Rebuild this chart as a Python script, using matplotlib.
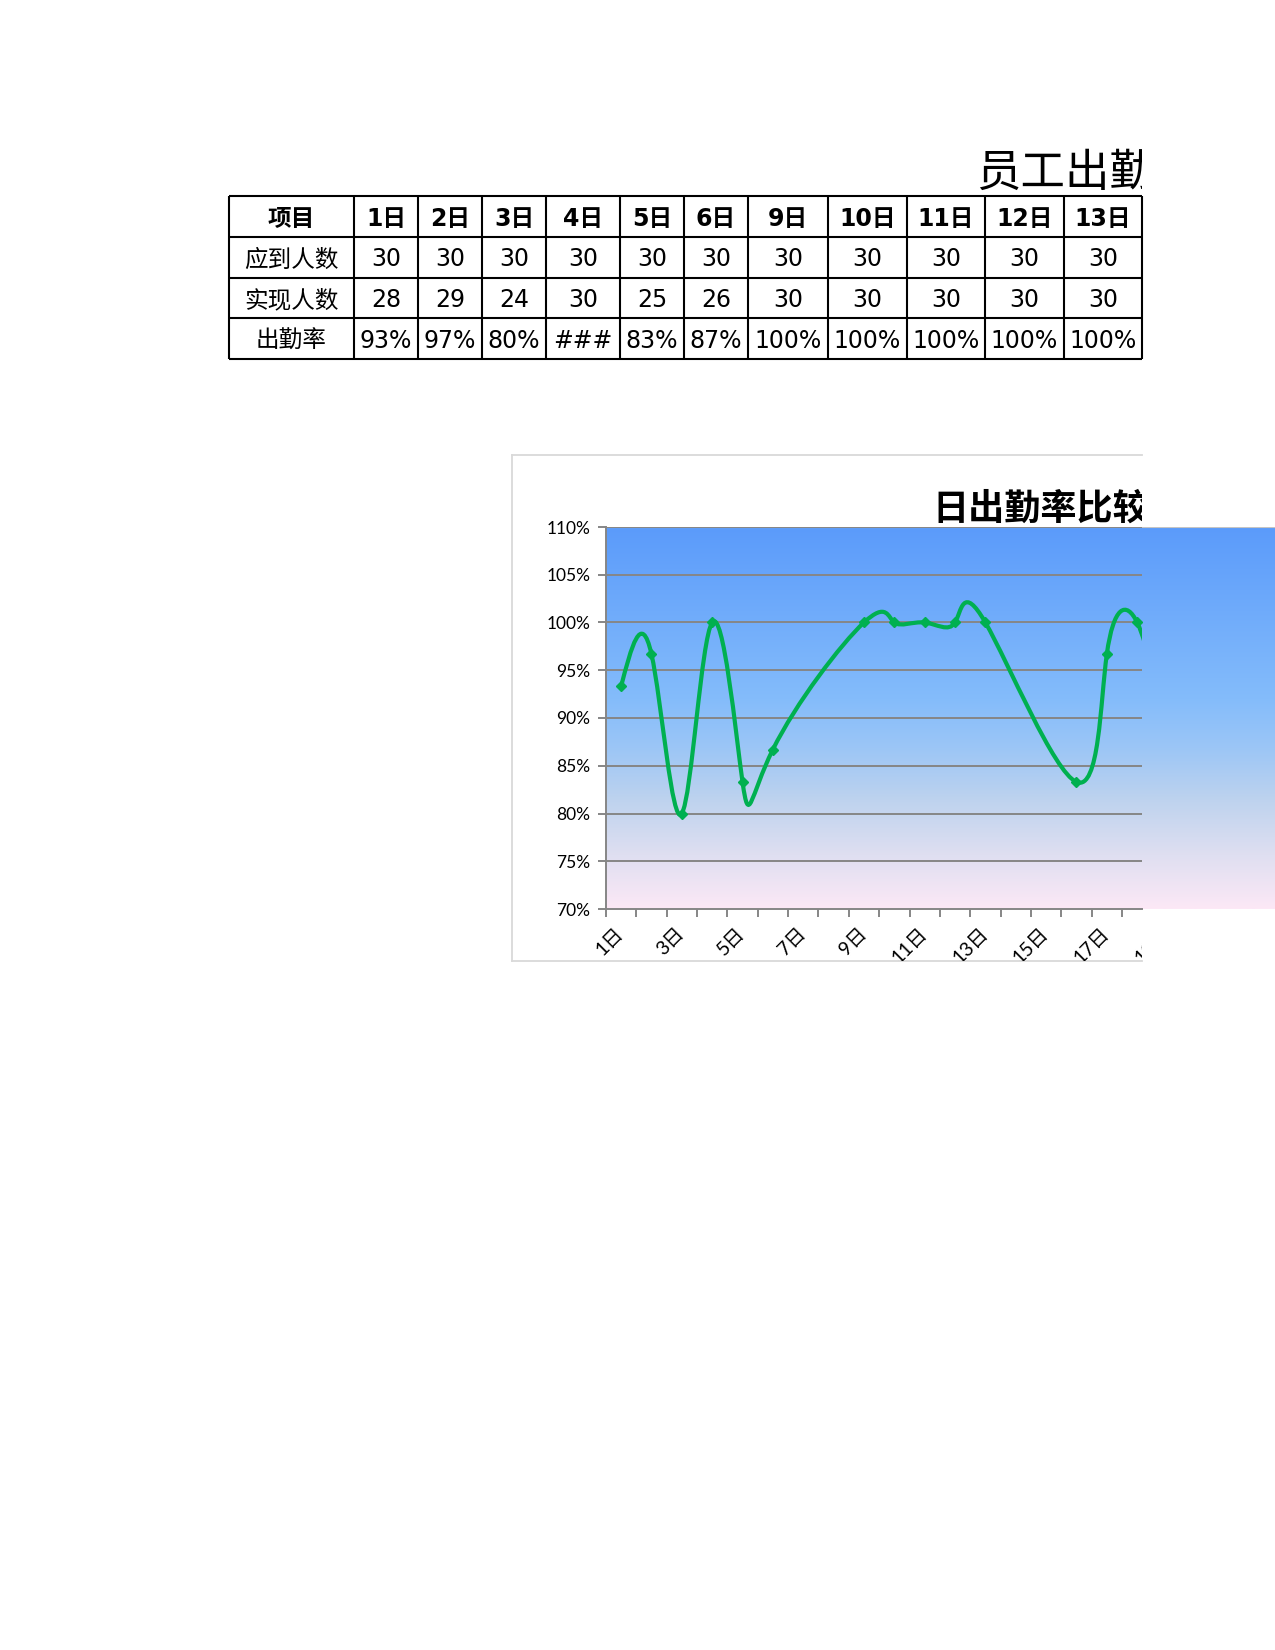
import numpy as np
import matplotlib
matplotlib.use("Agg")
import matplotlib.pyplot as plt
from matplotlib.path import Path
from matplotlib.patches import PathPatch
from matplotlib.colors import LinearSegmentedColormap
from matplotlib.transforms import Bbox, TransformedBbox, ScaledTranslation

plt.rcParams['font.family'] = ['Lato', 'Noto Sans CJK SC', 'DejaVu Sans']

# === table data ===
row_names = ['项目', '应到人数', '实现人数', '出勤率']
table_days = ['1日', '2日', '3日', '4日', '5日', '6日', '9日', '10日', '11日', '12日', '13日']
due = [30, 30, 30, 30, 30, 30, 30, 30, 30, 30, 30]
present = [28, 29, 24, 30, 25, 26, 30, 30, 30, 30, 30]
too_narrow = ['4日']   # column too narrow -> ###

# === chart data (None = no value that day) ===
chart_days = ['1日', '2日', '3日', '4日', '5日', '6日', '7日', '8日', '9日', '10日',
              '11日', '12日', '13日', '14日', '15日', '16日', '17日', '18日', '19日']
chart_rate = [93.3, 96.7, 80.0, 100.0, 83.3, 86.7, None, None, 100.0, 100.0,
              100.0, 100.0, 100.0, None, None, 83.3, 96.7, 100.0, 86.7]

W, H = 1275, 1650
fig = plt.figure(figsize=(W / 100, H / 100), dpi=100)

canvas = fig.add_axes([0, 0, 1, 1])
canvas.set_xlim(0, W)
canvas.set_ylim(H, 0)
canvas.axis('off')

# page is cut off at x=1142
page_clip = TransformedBbox(Bbox.from_extents(0, 0, 1142 / W, 1), fig.transFigure)
chart_clip = TransformedBbox(Bbox.from_extents(512 / W, 1 - 961 / H, 1142 / W, 1 - 455 / H),
                             fig.transFigure)

# --- sheet title ---
t = canvas.text(976, 173, '员工出勤统计表', fontsize=32, ha='left', va='center',
                family=['Noto Sans CJK SC'], clip_on=True)
t.set_clip_box(page_clip)

# --- table ---
col_edges = [229, 354, 418, 482, 546, 620, 684, 748, 828, 907, 985, 1064, 1142]
row_edges = [196, 237, 278, 318, 359]
canvas.hlines(row_edges, col_edges[0], col_edges[-1], color='black', lw=1.5)
canvas.vlines(col_edges, row_edges[0], row_edges[-1], color='black', lw=1.5)

rate_txt = []
for d, n, p in zip(table_days, due, present):
    rate_txt.append('###' if d in too_narrow else f'{round(p / n * 100)}%')

cells = [table_days, [str(v) for v in due], [str(v) for v in present], rate_txt]
tfam = ['DejaVu Sans', 'Noto Sans CJK SC']
for r in range(4):
    yc = (row_edges[r] + row_edges[r + 1]) / 2 + 2
    w = 'bold' if r == 0 else 'normal'
    canvas.text((col_edges[0] + col_edges[1]) / 2, yc, row_names[r], ha='center', va='center',
                fontsize=17, weight=w, family=tfam)
    for c, s in enumerate(cells[r]):
        xc = (col_edges[c + 1] + col_edges[c + 2]) / 2
        canvas.text(xc, yc, s, ha='center', va='center', fontsize=17, weight=w, family=tfam)

# --- chart frame ---
frame_col = '#d9d9d9'
for xs, ys in [([512, 1142], [455, 455]), ([512, 512], [455, 961]), ([512, 1142], [961, 961])]:
    canvas.plot(xs, ys, color=frame_col, lw=1.3)

ct = canvas.text(932, 491, '日出勤率比较图', fontsize=26, weight='bold', ha='left', va='top',
                 family=['Noto Sans CJK SC'], clip_on=True)
ct.set_clip_box(page_clip)

# --- plot area ---
x0_px, cat_w = 605.9, 30.36
ax = fig.add_axes([x0_px / W, 1 - 909 / H, (W - x0_px) / W, 382 / H])
xmax = (W - x0_px) / cat_w
xcut = (1142 - x0_px) / cat_w
ax.set_xlim(0, xmax)
ax.set_ylim(70, 110)
ax.patch.set_visible(False)

stops = [(0.0, '#5b9bfa'), (0.45, '#84bcfb'), (0.58, '#9cc6f6'), (0.72, '#bfd3ee'),
         (0.86, '#dfdff1'), (1.0, '#fce8f6')]
cmap = LinearSegmentedColormap.from_list('bg', stops)
ax.imshow(np.linspace(0, 1, 256)[:, None], cmap=cmap, extent=[0, xmax, 70, 110],
          aspect='auto', origin='upper', zorder=0)
ax.axhline(110, color='#c4c4c4', lw=0.8, zorder=1)

yvals = list(range(70, 111, 5))
grid_col = '#868686'
ax.hlines(yvals[1:], 0, xcut, color=grid_col, lw=1.4, zorder=2)

for s in ['top', 'right']:
    ax.spines[s].set_visible(False)
ax.spines['left'].set_color(grid_col)
ax.spines['left'].set_linewidth(1.4)
ax.spines['bottom'].set_color(grid_col)
ax.spines['bottom'].set_linewidth(1.4)
ax.spines['bottom'].set_bounds(0, xcut)

ax.set_yticks(yvals, [f'{v}%' for v in yvals])
ax.tick_params(axis='y', length=6, width=1.4, color=grid_col, pad=5, labelsize=12.5)

bounds = [b for b in range(len(chart_days) + 1) if b <= xcut]
ax.set_xticks(bounds, [''] * len(bounds))
ax.tick_params(axis='x', which='major', length=6, width=1.4, color=grid_col)
centers = np.arange(len(chart_days)) + 0.5
ax.set_xticks(centers[::2], chart_days[::2], minor=True)
ax.tick_params(axis='x', which='minor', length=0, pad=11, labelsize=14, labelrotation=45)
nudge = ScaledTranslation(6 / 100, 0, fig.dpi_scale_trans)
for lbl in ax.get_xticklabels(minor=True):
    lbl.set_ha('right')
    lbl.set_transform(lbl.get_transform() + nudge)
    lbl.set_clip_on(True)
    lbl.set_clip_box(chart_clip)


# --- smoothed line: parametric natural cubic spline over point index, as bezier segments ---
def natural_slopes(v):
    # natural spline through v at t = 0, 1, 2, ... ; returns dv/dt at each node
    n = len(v)
    A = np.zeros((n, n))
    rhs = np.zeros(n)
    A[0, 0] = A[-1, -1] = 1
    for i in range(1, n - 1):
        A[i, i - 1], A[i, i], A[i, i + 1] = 1, 4, 1
        rhs[i] = 6 * (v[i + 1] - 2 * v[i] + v[i - 1])
    M = np.linalg.solve(A, rhs)
    s = np.empty(n)
    s[:-1] = (v[1:] - v[:-1]) - (2 * M[:-1] + M[1:]) / 6
    s[-1] = (v[-1] - v[-2]) + (M[-2] + 2 * M[-1]) / 6
    return s


px = np.array([c for c, v in zip(centers, chart_rate) if v is not None])
py = np.array([v for v in chart_rate if v is not None])
dx, dy = natural_slopes(px), natural_slopes(py)

verts = [(px[0], py[0])]
codes = [Path.MOVETO]
for i in range(len(px) - 1):
    verts += [(px[i] + dx[i] / 3, py[i] + dy[i] / 3),
              (px[i + 1] - dx[i + 1] / 3, py[i + 1] - dy[i + 1] / 3),
              (px[i + 1], py[i + 1])]
    codes += [Path.CURVE4] * 3

green = '#00b050'
curve = PathPatch(Path(verts, codes), fill=False, edgecolor=green, lw=3.0, zorder=3,
                  capstyle='round', joinstyle='round')
ax.add_patch(curve)
curve.set_clip_box(chart_clip)
mk, = ax.plot(px, py, 'D', color=green, ms=5.5, zorder=4)
mk.set_clip_box(chart_clip)

fig.savefig('out.png', dpi=100)
